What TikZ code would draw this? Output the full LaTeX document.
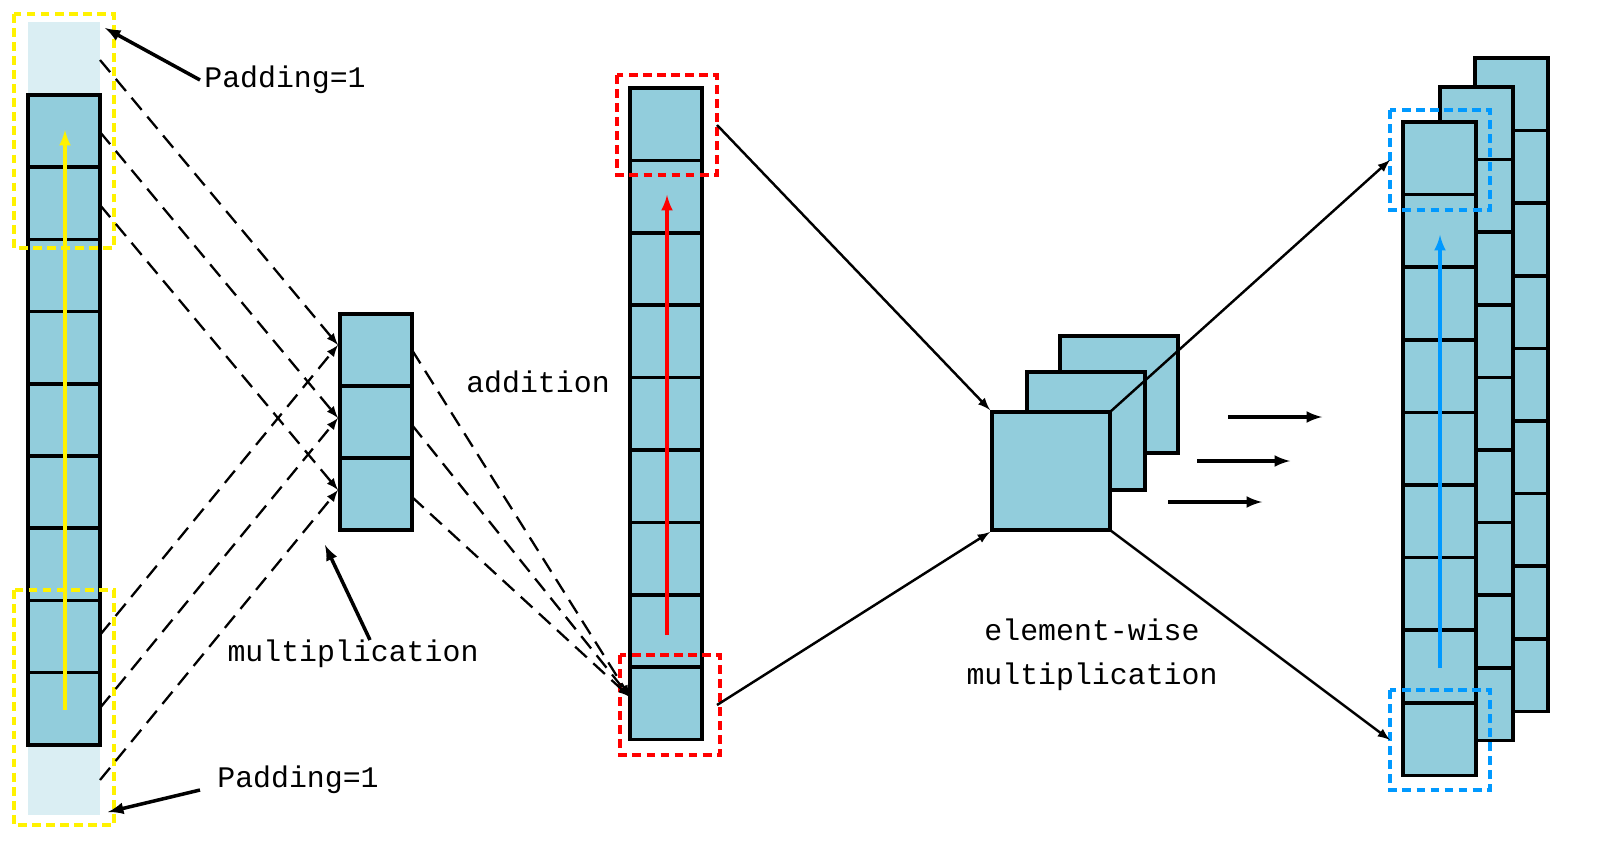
\documentclass[tikz,border=0pt]{standalone}
\usepackage{fontspec}
\setmainfont{Liberation Mono}
\begin{document}
\begin{tikzpicture}[x=0.02cm,y=-0.02cm,
 cell/.style={draw=black,line width=2pt,fill=cellc},
 dbox/.style={line width=2pt,dash pattern=on 5pt off 3pt},
 dl/.style={line width=1.3pt,dash pattern=on 9pt off 5pt,-latex},
 sl/.style={line width=1.4pt,-latex},
 lbl/.style={font=\fontsize{17}{21}\selectfont,align=center,inner sep=0pt}]
\definecolor{cellc}{RGB}{146,205,220}
\definecolor{padc}{RGB}{218,238,243}
\definecolor{blu}{RGB}{0,153,255}
\useasboundingbox (0,0) rectangle (1601,861);
% left column
\fill[padc] (28,22) rectangle (100,95);
\fill[padc] (28,745) rectangle (100,815);
\foreach \i in {0,...,8}{\draw[cell] (28,{95+\i*72.2}) rectangle (100,{95+(\i+1)*72.2});}
\draw[dbox,yellow] (14,14) rectangle (114,248);
\draw[dbox,yellow] (14,590) rectangle (114,825);
\coordinate (ya) at (65,710); \coordinate (yb) at (65,130);
\draw[yellow,line width=2pt,-latex] (ya) -- (yb);
% kernel
\foreach \i in {0,1,2}{\draw[cell] (340,{314+\i*72}) rectangle (412,{314+(\i+1)*72});}
\foreach \a/\b in {60/345,132/418,205/490,635/345,708/418,780/490}{
 \coordinate (s\a) at (100,\a); \coordinate (t\a) at (338,\b);
 \draw[dl] (s\a) -- (t\a);}
% middle column
\foreach \i in {0,...,8}{\draw[cell] (630,{88+\i*72.4}) rectangle (702,{88+(\i+1)*72.4});}
\draw[dbox,red] (617,75) rectangle (717,175);
\draw[dbox,red] (620,655) rectangle (720,755);
\draw[red,line width=2pt,-latex] (667,635) -- (667,195);
\coordinate (m) at (630,697);
\foreach \a in {350,425,497}{\coordinate (k\a) at (412,\a); \draw[dl] (k\a) -- (m);}
% squares
\draw[cell] (1060,336) rectangle (1178,453);
\draw[cell] (1027,372) rectangle (1145,490);
\draw[cell] (992,412) rectangle (1110,530);
\draw[sl] (717,125) -- (990,410);
\draw[sl] (717,705) -- (990,532);
% right columns
\foreach \x/\y in {1475/58,1440/87,1403/122}{
 \foreach \i in {0,...,8}{\draw[cell] (\x,{\y+\i*72.6}) rectangle (\x+73,{\y+(\i+1)*72.6});}}
\draw[dbox,blu] (1390,110) rectangle (1490,210);
\draw[dbox,blu] (1390,690) rectangle (1490,790);
\draw[blu,line width=2pt,-latex] (1440,668) -- (1440,235);
\draw[sl] (1110,412) -- (1390,160);
\draw[sl] (1110,530) -- (1390,740);
\draw[line width=2pt,-latex] (1228,417) -- (1322,417);
\draw[line width=2pt,-latex] (1197,461) -- (1290,461);
\draw[line width=2pt,-latex] (1168,502) -- (1262,502);
% labels
\node[lbl] (p1) at (285,80) {Padding=1};
\node[lbl] (p2) at (298,780) {Padding=1};
\draw[line width=2pt,-latex] (200,80) -- (105,28);
\draw[line width=2pt,-latex] (200,790) -- (108,812);
\node[lbl] (ad) at (538,382) {addition};
\node[lbl] (mu) at (353,654) {multiplication};
\draw[line width=2pt,-latex] (370,640) -- (325,545);
\node[lbl] (ew) at (1092,655) {element-wise\\[4pt]multiplication};
\end{tikzpicture}
\end{document}
